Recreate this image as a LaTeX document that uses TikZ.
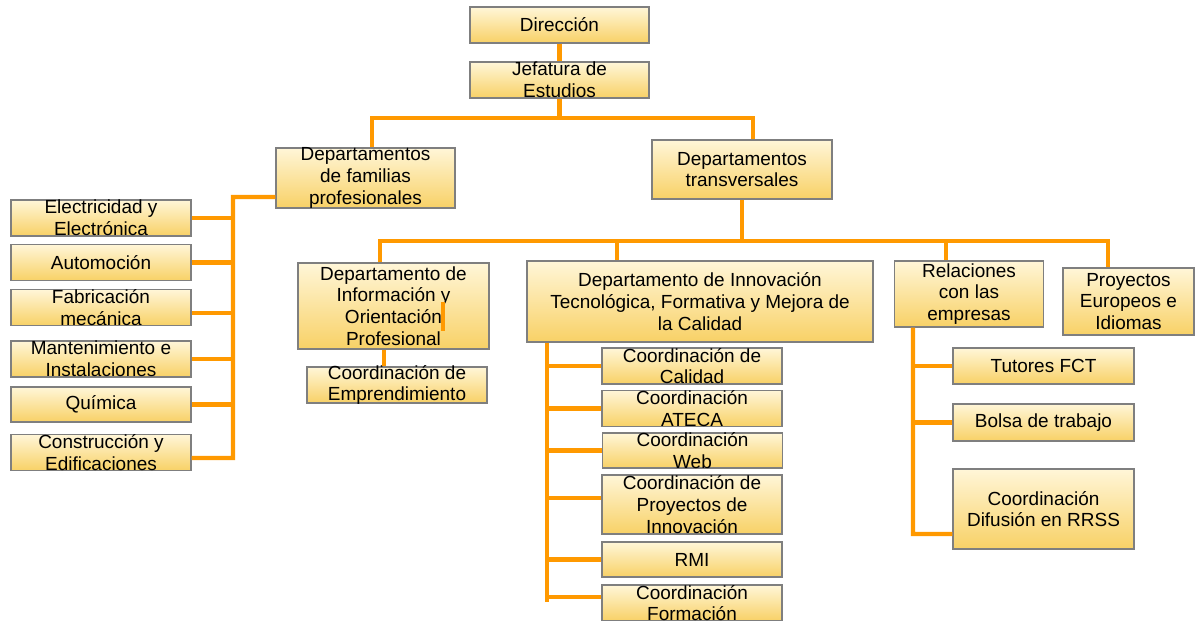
\documentclass[tikz,border=0pt]{standalone}
\usepackage{fontspec}
\setmainfont{Liberation Sans}
\usepackage{tikz}

\definecolor{naranja}{HTML}{FF9900}
\definecolor{crema}{HTML}{FFF6D8}
\definecolor{ambar}{HTML}{F8D166}
\definecolor{borde}{HTML}{7F7F7F}

\tikzset{
  caja/.style={draw=borde, line width=0.8pt, top color=crema, bottom color=ambar,
    minimum width=3.6cm, minimum height=0.72cm, inner sep=0pt},
  texto/.style={align=center, font=\fontsize{10.8}{12.3}\selectfont, inner sep=0pt},
  linea/.style={draw=naranja, line width=2.3pt}
}

\begin{document}
\begin{tikzpicture}[x=0.02cm, y=-0.02cm]
\useasboundingbox (0,0) rectangle (1202,620);
\clip (0,0) rectangle (1202,620);

% cabecera
\node[caja, minimum width=3.58cm, label={[texto]center:{Dirección}}] (dir) at (559.5,25) {};
\node[caja, minimum width=3.58cm, label={[texto]center:{Jefatura de\\Estudios}}] (jefe) at (559.5,80) {};
\node[caja, minimum width=3.58cm, minimum height=1.2cm, label={[texto]center:{Departamentos\\de familias\\profesionales}}] (fam) at (365.5,178) {};
\node[caja, minimum height=1.18cm, label={[texto]center:{Departamentos\\transversales}}] (trans) at (742,169.5) {};

% familias profesionales
\node[caja, label={[texto]center:{Electricidad y\\Electrónica}}] (elec) at (101,218) {};
\node[caja, label={[texto]center:{Automoción}}] (auto) at (101,262.5) {};
\node[caja, label={[texto]center:{Fabricación\\mecánica}}] (fabr) at (101,307.5) {};
\node[caja, label={[texto]center:{Mantenimiento e\\Instalaciones}}] (mant) at (101,359) {};
\node[caja, minimum height=0.7cm, label={[texto]center:{Química}}] (quim) at (101,404.5) {};
\node[caja, label={[texto]center:{Construcción y\\Edificaciones}}] (cons) at (101,452.5) {};

% transversales
\node[caja, minimum width=3.82cm, minimum height=1.72cm, label={[texto]center:{Departamento de\\Información y\\Orientación\\Profesional}}] (info) at (393.5,306) {};
\node[caja, label={[texto]center:{Coordinación de\\Emprendimiento}}] (empr) at (397,385) {};
\node[caja, minimum width=6.92cm, minimum height=1.62cm, label={[texto]center:{Departamento de Innovación\\Tecnológica, Formativa y Mejora de\\la Calidad}}] (innov) at (700,301.5) {};
\node[caja, minimum width=2.98cm, minimum height=1.32cm, label={[texto]center:{Relaciones\\con las\\empresas}}] (rel) at (969,294) {};
\node[caja, minimum width=2.62cm, minimum height=1.34cm, label={[texto]center:{Proyectos\\Europeos e\\Idiomas}}] (euro) at (1128.5,301.5) {};

% innovacion
\node[caja, label={[texto]center:{Coordinación de\\Calidad}}] (cal) at (692,366) {};
\node[caja, label={[texto]center:{Coordinación\\ATECA}}] (ateca) at (692,408.5) {};
\node[caja, minimum height=0.7cm, label={[texto]center:{Coordinación\\Web}}] (web) at (692.5,450.5) {};
\node[caja, minimum height=1.18cm, label={[texto]center:{Coordinación de\\Proyectos de\\Innovación}}] (proy) at (692,504.5) {};
\node[caja, minimum height=0.7cm, label={[texto]center:{RMI}}] (rmi) at (692,559.5) {};
\node[caja, label={[texto]center:{Coordinación\\Formación}}] (form) at (692,603) {};

% empresas
\node[caja, minimum width=3.62cm, label={[texto]center:{Tutores FCT}}] (fct) at (1043.5,366) {};
\node[caja, minimum width=3.62cm, minimum height=0.74cm, label={[texto]center:{Bolsa de trabajo}}] (bolsa) at (1043.5,422.5) {};
\node[caja, minimum width=3.62cm, minimum height=1.6cm, label={[texto]center:{Coordinación\\Difusión en RRSS}}] (difu) at (1043.5,509) {};

% conectores de arriba
\coordinate (a1) at (372,118);
\coordinate (a2) at (753,118);
\draw[linea] (dir) -- (jefe);
\draw[linea] (jefe.south) -- (jefe.south |- a1);
\draw[linea] (a1 |- fam.north) -- (a1) -- (a2) -- (a2 |- trans.north);

% rama de familias
\coordinate (ejefam) at (233,458);
\draw[linea] ([yshift=-0.38cm]fam.west) -| (ejefam) -- ([yshift=-0.11cm]cons.east);
\foreach \n/\d in {elec/0,auto/0,fabr/-0.11,mant/0,quim/0}
  \draw[linea] ([yshift=\d cm]\n.east) -- ([yshift=\d cm]\n.east -| ejefam);

% rama de transversales
\coordinate (b1) at (380,241);
\coordinate (b2) at (617,241);
\coordinate (b3) at (946,241);
\coordinate (b4) at (1108,241);
\draw[linea] (trans.south) -- (trans.south |- b1);
\draw[linea] (b1 |- info.north) -- (b1) -- (b4) -- (b4 |- euro.north);
\draw[linea] (b2) -- (b2 |- innov.north);
\draw[linea] (b3) -- (b3 |- rel.north);
\draw[linea] ([xshift=-0.26cm]empr.north) -- ([xshift=-0.26cm]empr.north |- info.south);

% innovacion
\coordinate (ejeinn) at (547,602);
\draw[linea] (innov.south -| ejeinn) -- (ejeinn);
\foreach \n/\d in {cal/0,ateca/0,web/0,proy/0.13,rmi/0,form/0.12}
  \draw[linea] ([yshift=\d cm]\n.west) -- ([yshift=\d cm]\n.west -| ejeinn);

% empresas
\coordinate (ejerel) at (913,534);
\draw[linea] (rel.south -| ejerel) -- (ejerel) -- ([yshift=-0.5cm]difu.west);
\foreach \n in {fct,bolsa}
  \draw[linea] (\n.west) -- (\n.west -| ejerel);

% trazo suelto
\draw[linea] ([xshift=0.99cm,yshift=0.08cm]info.center) -- ++(0,29);
\end{tikzpicture}
\end{document}
